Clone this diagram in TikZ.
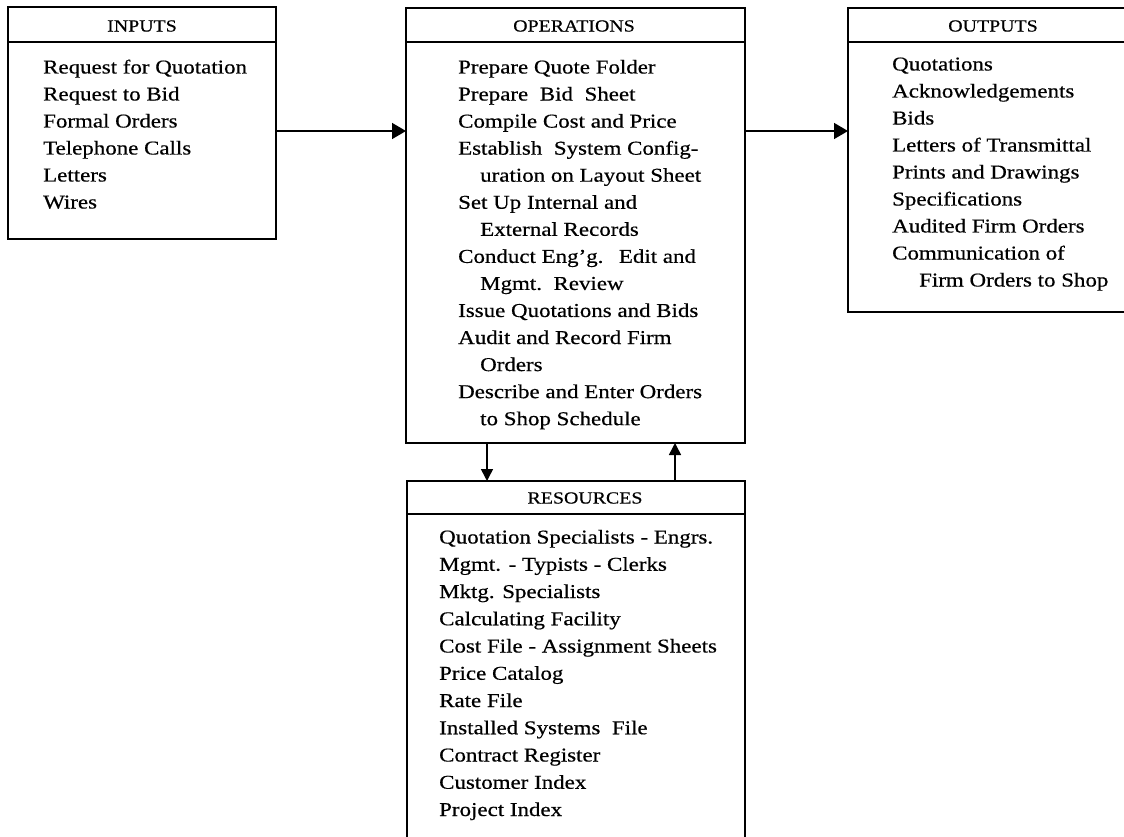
\documentclass[tikz,border=0pt]{standalone}
\usepackage{fontspec}
\setmainfont[FakeStretch=1.17, FakeBold=0.5]{Liberation Serif}
\usetikzlibrary{arrows.meta}

\tikzset{
  panel/.style={draw, line width=1.6pt, rectangle, inner sep=0pt, outer sep=0pt, anchor=north west},
  rule/.style={line width=1.6pt},
  head/.style={inner sep=0pt, font=\fontsize{17}{20}\selectfont},
  item/.style={inner sep=0pt, anchor=base west, font=\fontsize{19.6}{24}\selectfont},
  flow/.style={line width=1.5pt, -{Triangle[length=14pt,width=16pt]}},
  vflow/.style={line width=1.5pt, -{Triangle[length=12pt,width=12pt]}}
}

\begin{document}
\begin{tikzpicture}[x=1pt, y=-1pt]
  \clip (0,0) rectangle (1124,837);
  \fill[white] (0,0) rectangle (1124,837);

  % the four panels
  \node[panel, minimum width=268pt, minimum height=232pt] (inbox)  at (8,7)   {};
  \node[panel, minimum width=339pt, minimum height=435pt] (opbox)  at (406,8) {};
  \node[panel, minimum width=290pt, minimum height=304pt] (outbox) at (848,8) {};
  \node[panel, minimum width=338pt, minimum height=400pt] (resbox) at (407,481) {};

  % header rules
  \draw[rule] (inbox.west |- 0,42)  -- (inbox.east |- 0,42);
  \draw[rule] (opbox.west |- 0,42)  -- (opbox.east |- 0,42);
  \draw[rule] (outbox.west |- 0,42) -- (outbox.east |- 0,42);
  \draw[rule] (resbox.west |- 0,514) -- (resbox.east |- 0,514);

  % headers
  \node[head] (inhead)  at (142,26)  {INPUTS};
  \node[head] (ophead)  at (574,26)  {OPERATIONS};
  \node[head] (outhead) at (993,26)  {OUTPUTS};
  \node[head] (reshead) at (585,498) {RESOURCES};

  % inputs
  \foreach \t [count=\i from 0] in {Request for Quotation, Request to Bid, Formal Orders,
      Telephone Calls, Letters, Wires}
    \node[item] (in\i) at (43, 73.5+27.0*\i) {\t};

  % operations
  \foreach \t/\d [count=\i from 0] in {
      {Prepare Quote Folder}/0,
      {Prepare\hspace{0.3em} Bid\hspace{0.3em} Sheet}/0,
      {Compile Cost and Price}/0,
      {Establish\hspace{0.3em} System Config-}/0,
      {uration on Layout Sheet}/1,
      {Set Up Internal and}/0,
      {External Records}/1,
      {Conduct Eng'g.\hspace{0.4em} Edit and}/0,
      {Mgmt.\hspace{0.2em} Review}/1,
      {Issue Quotations and Bids}/0,
      {Audit and Record Firm}/0,
      {Orders}/1,
      {Describe and Enter Orders}/0,
      {to Shop Schedule}/1}
    \node[item] (op\i) at (458+22*\d, 73.5+27.05*\i) {\t};

  % outputs
  \foreach \t/\d [count=\i from 0] in {
      {Quotations}/0,
      {Acknowledgements}/0,
      {Bids}/0,
      {Letters of Transmittal}/0,
      {Prints and Drawings}/0,
      {Specifications}/0,
      {Audited Firm Orders}/0,
      {Communication of}/0,
      {Firm Orders to Shop}/1}
    \node[item] (out\i) at (892+27*\d, 70.5+27.0*\i) {\t};

  % resources
  \foreach \t [count=\i from 0] in {
      Quotation Specialists - Engrs.,
      Mgmt. - Typists - Clerks,
      Mktg. Specialists,
      Calculating Facility,
      Cost File - Assignment Sheets,
      Price Catalog,
      Rate File,
      Installed Systems\hspace{0.3em} File,
      Contract Register,
      Customer Index,
      Project Index}
    \node[item] (res\i) at (439, 543.5+27.25*\i) {\t};

  % connectors
  \coordinate (flowrow) at (0,131);
  \coordinate (downcol) at (487,0);
  \coordinate (upcol) at (675,0);
  \draw[flow] (inbox.east |- flowrow) -- (opbox.west |- flowrow);
  \draw[flow] (opbox.east |- flowrow) -- (outbox.west |- flowrow);
  \draw[vflow] (opbox.south -| downcol) -- (resbox.north -| downcol);
  \draw[vflow] (resbox.north -| upcol) -- (opbox.south -| upcol);
\end{tikzpicture}
\end{document}
